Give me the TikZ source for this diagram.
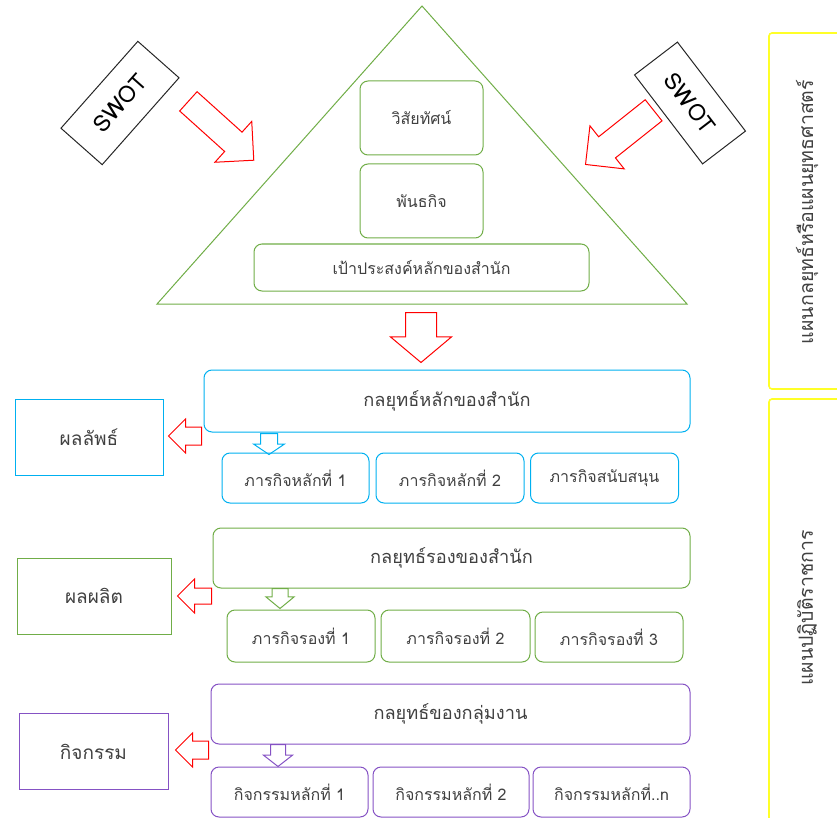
\documentclass[tikz,border=0pt]{standalone}
\usepackage{fontspec}
\usetikzlibrary{shapes.arrows}
\newfontfamily\thaifont[Script=Thai]{Loma}
\definecolor{ogreen}{RGB}{112,173,71}
\definecolor{oblue}{RGB}{0,176,240}
\definecolor{opurple}{RGB}{133,82,196}
\definecolor{otext}{RGB}{64,64,64}
\definecolor{oyellow}{RGB}{255,255,40}

\begin{document}
\begin{tikzpicture}[x=1pt,y=-1pt,
  every node/.style={text=otext, inner sep=0pt, font=\thaifont\fontsize{16}{19}\selectfont},
  box/.style={draw=#1, line width=1pt, rounded corners=8pt},
  outbox/.style={draw=#1, line width=1pt, minimum width=149pt, minimum height=76pt, font=\thaifont\fontsize{19}{22}\selectfont},
  stratbox/.style={box=#1, minimum height=60pt, font=\thaifont\fontsize{18.2}{21}\selectfont},
  subbox/.style={box=#1, minimum width=148pt, minimum height=50pt},
  swotbox/.style={draw=black!85, line width=1pt, minimum width=116pt, minimum height=55pt, text=black, font=\thaifont\fontsize{23}{27}\selectfont},
  barrow/.style n args={4}{single arrow, draw=red, line width=1pt, anchor=tail,
    minimum width=0pt, minimum height=#1pt, inner xsep=0pt, inner ysep=#2pt,
    single arrow head extend=#3pt, single arrow tip angle=#4},
  planbox/.style={draw=oyellow, line width=1.6pt, rounded corners=3pt, minimum width=131pt},
  plantext/.style={rotate=90, font=\thaifont\fontsize{19.5}{23}\selectfont}
]
\useasboundingbox (0,0) rectangle (837,818);

% pyramid
\draw[ogreen, line width=1pt] (422,6) -- (687,304) -- (157,304) -- cycle;
\node[box=ogreen, minimum width=123pt, minimum height=74pt] (vis) at (421.5,118) {วิสัยทัศน์};
\node[box=ogreen, minimum width=123pt, minimum height=74pt] (mis) at (421.5,201) {พันธกิจ};
\node[box=ogreen, minimum width=335pt, minimum height=47pt] (goal) at (421.5,267.5) {เป้าประสงค์หลักของสำนัก};

% SWOT
\node[swotbox, rotate=48.5] (swotL) at (120,103) {SWOT};
\node[swotbox, rotate=-52.6, minimum width=112pt, minimum height=54pt] (swotR) at (690,103) {SWOT};
\node[barrow={88}{12.5}{14.5}{90}, rotate=-42] (inL) at (188,101) {};
\node[barrow={87}{13}{14}{90}, rotate=218.5] (inR) at (654,110) {};
\node[barrow={50}{15}{15}{100}, rotate=-90] (down) at (421,312) {};

% office strategy
\node[stratbox=oblue, minimum width=486pt, minimum height=62pt] (strA) at (447,401) {กลยุทธ์หลักของสำนัก};
\node[outbox=oblue, minimum width=148pt] (resA) at (89,437) {ผลลัพธ์};
\node[barrow={33}{8.5}{8}{90}, rotate=180] (toA) at (202,436) {};
\node[barrow={21}{8}{7}{112}, draw=oblue, rotate=-90] (dnA) at (269,433) {};
\node[subbox=oblue, minimum width=147pt] (subA1) at (295.5,478) {ภารกิจหลักที่ 1};
\node[subbox=oblue] (subA2) at (450,478) {ภารกิจหลักที่ 2};
\node[subbox=oblue] (subA3) at (604.5,478) {ภารกิจสนับสนุน};

% secondary strategy
\node[stratbox=ogreen, minimum width=477pt] (strB) at (451.5,558) {กลยุทธ์รองของสำนัก};
\node[outbox=ogreen, minimum width=154pt] (resB) at (94,596) {ผลผลิต};
\node[barrow={34}{7.5}{9}{90}, rotate=180] (toB) at (212,596) {};
\node[barrow={20}{7.5}{6}{101}, draw=ogreen, rotate=-90] (dnB) at (280,588) {};
\node[subbox=ogreen, minimum height=52pt] (subB1) at (301,636) {ภารกิจรองที่ 1};
\node[subbox=ogreen, minimum width=149pt, minimum height=52pt] (subB2) at (455.5,636) {ภารกิจรองที่ 2};
\node[subbox=ogreen] (subB3) at (609,637) {ภารกิจรองที่ 3};

% group strategy
\node[stratbox=opurple, minimum width=479pt] (strC) at (450.5,714) {กลยุทธ์ของกลุ่มงาน};
\node[outbox=opurple] (resC) at (93.5,751.5) {กิจกรรม};
\node[barrow={33}{8.5}{8}{90}, rotate=180] (toC) at (209,750) {};
\node[barrow={22}{7}{7}{104}, draw=opurple, rotate=-90] (dnC) at (278,744) {};
\node[subbox=opurple, minimum width=157pt] (subC1) at (289.5,792) {กิจกรรมหลักที่ 1};
\node[subbox=opurple, minimum width=156pt] (subC2) at (451,792) {กิจกรรมหลักที่ 2};
\node[subbox=opurple, minimum width=157pt] (subC3) at (611.5,792) {กิจกรรมหลักที่..n};

% plans
\node[planbox, minimum height=356pt] (planA) at (834.5,211) {};
\node[planbox, minimum height=441pt] (planB) at (834.5,619.5) {};
\node[plantext] (planAt) at (807,212) {แผนกลยุทธ์หรือแผนยุทธศาสตร์};
\node[plantext] (planBt) at (807,608) {แผนปฏิบัติราชการ};
\end{tikzpicture}
\end{document}
